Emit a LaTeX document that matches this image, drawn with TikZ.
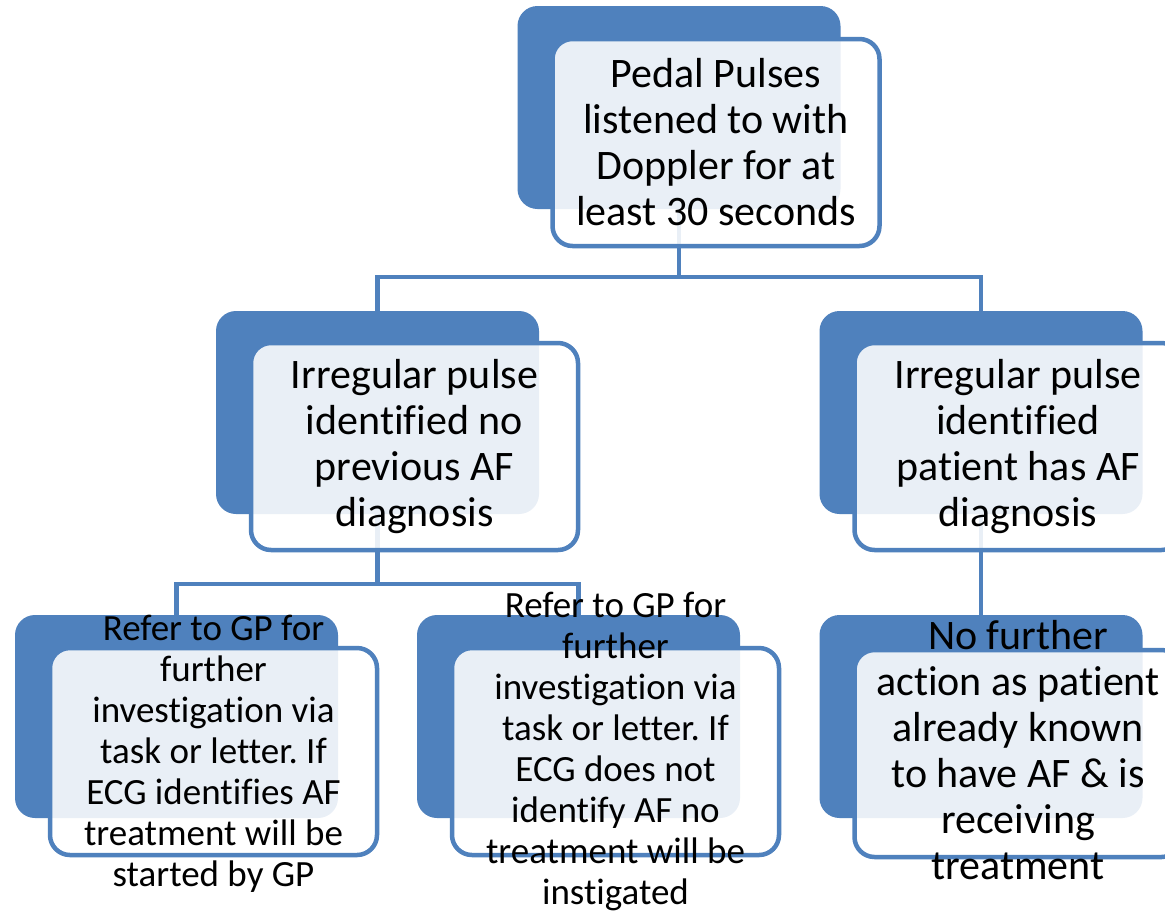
\documentclass[tikz,border=0pt]{standalone}
\usepackage{fontspec}
\setmainfont[Ligatures={NoCommon}]{Carlito}
\frenchspacing
\definecolor{ob}{RGB}{79,129,189}
\tikzset{
  backbox/.style={rectangle, rounded corners=20pt, fill=ob, minimum width=323pt, minimum height=203pt, inner sep=0pt, outer sep=0pt},
  frontbox/.style={rectangle, rounded corners=20pt, fill=white, fill opacity=0.88, draw=ob, line width=4.5pt, minimum width=327pt, minimum height=207pt, inner sep=0pt, outer sep=0pt},
  conn/.style={draw=ob, line width=4.5pt},
  bigtxt/.style={align=center, inner sep=0pt, font=\fontsize{42}{46}\selectfont},
  smalltxt/.style={align=center, inner sep=0pt, font=\fontsize{37}{41}\selectfont},
}
\begin{document}
\begin{tikzpicture}[x=1pt,y=-1pt]
\useasboundingbox (0,0) rectangle (1165,914);
\fill[white] (0,0) rectangle (1165,914);
\clip (0,0) rectangle (1165,914);
% back boxes
\node[backbox] (b1) at (679,107.5) {};
\node[backbox] (b2) at (377.5,412.5) {};
\node[backbox] (b3) at (981,412.5) {};
\node[backbox] (b4) at (176.5,716.5) {};
\node[backbox] (b5) at (578.5,716.5) {};
\node[backbox] (b6) at (981,716.5) {};
% connectors
\draw[conn] (b1.south) -- ++(0,68) -| (b2.north);
\draw[conn] (b1.south) -- ++(0,68) -| (b3.north);
\draw[conn] (b2.south) -- ++(0,70) -| (b4.north);
\draw[conn] (b2.south) -- ++(0,70) -| (b5.north);
\draw[conn] (b3.south) -- (b6.north);
% front boxes
\node[frontbox] (f1) at ([shift={(37,35)}]b1.center) {};
\node[frontbox] (f2) at ([shift={(37,34)}]b2.center) {};
\node[frontbox] (f3) at ([shift={(37,34)}]b3.center) {};
\node[frontbox] (f4) at ([shift={(37,35)}]b4.center) {};
\node[frontbox] (f5) at ([shift={(37,35)}]b5.center) {};
\node[frontbox] (f6) at ([shift={(37,37)}]b6.center) {};
% texts
\node[bigtxt] (t1) at (f1.center) {Pedal Pulses\\listened to with\\Doppler for at\\least 30 seconds};
\node[bigtxt] (t2) at (f2.center) {Irregular pulse\\identified no\\previous AF\\diagnosis};
\node[bigtxt] (t3) at (f3.center) {Irregular pulse\\identified\\patient has AF\\diagnosis};
\node[smalltxt] (t4) at ([yshift=-2.5]f4.center) {Refer to GP for\\further\\investigation via\\task or letter. If\\ECG identifies AF\\treatment will be\\started by GP};
\node[smalltxt] (t5) at (f5.center) {Refer to GP for\\further\\investigation via\\task or letter. If\\ECG does not\\identify AF no\\treatment will be\\instigated};
\node[bigtxt] (t6) at ([yshift=3]f6.center) {No further\\action as patient\\already known\\to have AF \& is\\receiving\\treatment};
\end{tikzpicture}
\end{document}
